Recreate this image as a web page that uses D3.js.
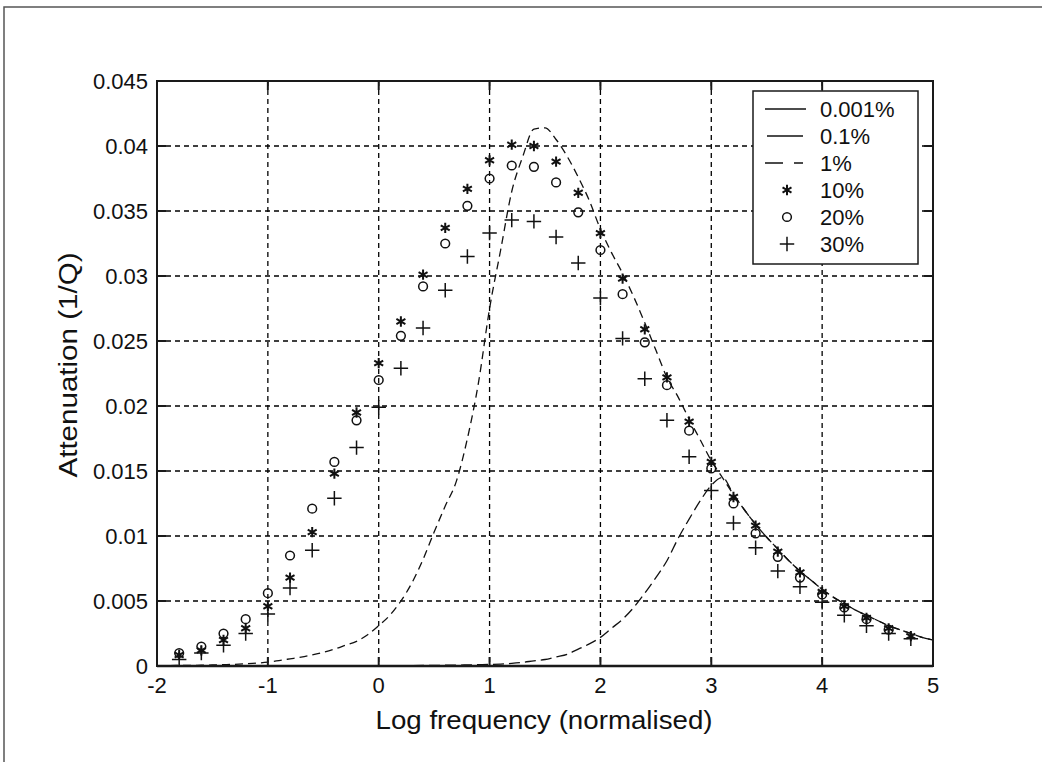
<!DOCTYPE html>
<html>
<head>
<meta charset="utf-8">
<script src="https://cdn.jsdelivr.net/npm/d3@7"></script>
<style>
    body { margin: 0; background: #fff; }
    svg text { font-family: "Liberation Sans", Arial, sans-serif; fill: #111; }
</style>
</head>
<body>
<svg id="chart" width="1042" height="762"></svg>
<script>
// curve samples (log frequency)
const curveX = [-2.0, -1.9, -1.8, -1.7, -1.6, -1.5, -1.4, -1.3, -1.2, -1.1,
    -1.0, -0.9, -0.8, -0.7, -0.6, -0.5, -0.4, -0.3, -0.2, -0.1,
    0.0, 0.1, 0.2, 0.3, 0.4, 0.5, 0.6, 0.7, 0.8, 0.9,
    1.0, 1.1, 1.2, 1.3, 1.4, 1.5, 1.6, 1.7, 1.8, 1.9,
    2.0, 2.1, 2.2, 2.3, 2.4, 2.5, 2.6, 2.7, 2.8, 2.9,
    3.0, 3.1, 3.2, 3.3, 3.4, 3.5, 3.6, 3.7, 3.8, 3.9,
    4.0, 4.1, 4.2, 4.3, 4.4, 4.5, 4.6, 4.7, 4.8, 4.9, 5.0];

const curve0001 = [0, 0, 0, 0, 0, 0, 0, 0, 0, 0,
    0, 0, 0, 0, 0, 0, 0, 0, 0, 0,
    0, 0, 0, 0, 0, 0, 0, 0, 0, 0,
    0, 0, 0, 0, 0, 0, 0, 0, 0, 0,
    0, 0, 0, 0, 0, 0, 0, 0, 0, 0,
    0, 0, 0, 0, 0, 0, 0, 0, 0, 0,
    0, 0, 0, 0, 0, 0, 0, 0, 0, 0, 0];

const curve01 = [0, 0, 0, 0, 0, 0, 0, 0, 0, 0,
    0, 0, 0, 0, 0, 0, 0, 0, 0, 0,
    0.00001, 0.00002, 0.00002, 0.00003, 0.00004, 0.00005, 0.00006, 0.00007, 0.00008, 0.0001,
    0.00012, 0.00015, 0.0002, 0.00028, 0.0004, 0.0005, 0.0007, 0.0009, 0.0013, 0.0017,
    0.0022, 0.0029, 0.0036, 0.0045, 0.0056, 0.0068, 0.0081, 0.0098, 0.0113, 0.0127,
    0.0139, 0.0145, 0.0132, 0.012, 0.0109, 0.0099, 0.009, 0.0081, 0.0073, 0.0066,
    0.0059, 0.0053, 0.0048, 0.0043, 0.0039, 0.0035, 0.0031, 0.0028, 0.0025, 0.0022, 0.002];

const curve1 = [0.00002, 0.00003, 0.00004, 0.00005, 0.00006, 0.00008, 0.0001, 0.00013, 0.00017, 0.00022,
    0.0003, 0.00042, 0.00055, 0.00068, 0.00085, 0.00105, 0.0013, 0.0016, 0.0019, 0.0024,
    0.0031, 0.0039, 0.005, 0.0064, 0.0082, 0.0103, 0.0123, 0.0142, 0.0175, 0.0218,
    0.0275, 0.032, 0.0365, 0.0392, 0.0413, 0.0414, 0.0405, 0.0392, 0.0376, 0.0358,
    0.0336, 0.0318, 0.0302, 0.0284, 0.0264, 0.0243, 0.0222, 0.0207, 0.019, 0.0174,
    0.0158, 0.0145, 0.0132, 0.012, 0.0109, 0.0099, 0.009, 0.0081, 0.0073, 0.0066,
    0.0059, 0.0053, 0.0048, 0.0043, 0.0039, 0.0035, 0.0031, 0.0028, 0.0025, 0.0022, 0.002];

// measured points
const markerX = [-1.8, -1.6, -1.4, -1.2, -1.0, -0.8, -0.6, -0.4, -0.2, 0.0,
    0.2, 0.4, 0.6, 0.8, 1.0, 1.2, 1.4, 1.6, 1.8, 2.0,
    2.2, 2.4, 2.6, 2.8, 3.0, 3.2, 3.4, 3.6, 3.8, 4.0,
    4.2, 4.4, 4.6, 4.8];

const star10 = [0.00085, 0.0012, 0.002, 0.0029, 0.0046, 0.0068, 0.0103, 0.0148, 0.0195, 0.0233,
    0.0265, 0.0301, 0.0337, 0.0367, 0.0389, 0.0401, 0.04, 0.0388, 0.0364, 0.0333,
    0.0298, 0.0259, 0.0222, 0.0188, 0.0157, 0.013, 0.0108, 0.0088, 0.0072, 0.0057,
    0.0046, 0.0037, 0.0029, 0.0023];

const circle20 = [0.001, 0.0015, 0.0025, 0.0036, 0.0056, 0.0085, 0.0121, 0.0157, 0.0189, 0.022,
    0.0254, 0.0292, 0.0325, 0.0354, 0.0375, 0.0385, 0.0384, 0.0372, 0.0349, 0.032,
    0.0286, 0.0249, 0.0216, 0.0181, 0.0152, 0.0125, 0.0102, 0.0084, 0.0068, 0.0055,
    0.0045, 0.0036, 0.0028, null];

const plus30 = [0.0005, 0.001, 0.0016, 0.0025, 0.004, 0.006, 0.0089, 0.0129, 0.0168, 0.0199,
    0.0229, 0.026, 0.0289, 0.0315, 0.0333, 0.0343, 0.0342, 0.033, 0.031, 0.0283,
    0.0252, 0.0221, 0.0189, 0.0161, 0.0135, 0.011, 0.0091, 0.0073, 0.0061, 0.0049,
    0.0039, 0.0031, 0.0025, 0.0021];

const xTicks = [-2, -1, 0, 1, 2, 3, 4, 5];
const yTicks = [0, 0.005, 0.01, 0.015, 0.02, 0.025, 0.03, 0.035, 0.04, 0.045];
const yTickLabels = ["0", "0.005", "0.01", "0.015", "0.02", "0.025", "0.03", "0.035", "0.04", "0.045"];
const legendLabels = ["0.001%", "0.1%", "1%", "10%", "20%", "30%"];

(function() {
    var svg = d3.select("#chart"),
        pLeft = 157, pRight = 933, pTop = 81, pBottom = 666,
        tickLen = 9;

    var x = d3.scaleLinear().domain([-2, 5]).range([pLeft, pRight]);
    var y = d3.scaleLinear().domain([0, 0.045]).range([pBottom, pTop]);

    // outer figure frame (only top and left edges show)
    svg.append("path")
        .attr("d", "M4,762V7H1042")
        .attr("fill", "none")
        .attr("stroke", "#555")
        .attr("stroke-width", 1.5);

    // grid
    var grid = svg.append("g")
        .attr("stroke", "#000")
        .attr("stroke-width", 1.3)
        .attr("stroke-dasharray", "5,4");

    grid.selectAll("line.vx")
        .data(xTicks.slice(1, -1))
        .enter()
        .append("line")
        .attr("x1", d => x(d)).attr("x2", d => x(d))
        .attr("y1", pTop).attr("y2", pBottom);

    grid.selectAll("line.hy")
        .data(yTicks.slice(1, -1))
        .enter()
        .append("line")
        .attr("y1", d => y(d)).attr("y2", d => y(d))
        .attr("x1", pLeft).attr("x2", pRight);

    // curves
    var line = d3.line()
        .x(d => x(d[0]))
        .y(d => y(d[1]))
        .curve(d3.curveMonotoneX);

    let curves = [
        { values: curve0001, dash: null, width: 2.5 },
        { values: curve01, dash: "11,5", width: 1.3 },
        { values: curve1, dash: "8,5", width: 1.3 }
    ];

    svg.append("g")
        .selectAll("path")
        .data(curves)
        .enter()
        .append("path")
        .attr("d", d => line(curveX.map((v, i) => [v, d.values[i]])))
        .attr("fill", "none")
        .attr("stroke", "#111")
        .attr("stroke-width", d => d.width)
        .attr("stroke-dasharray", d => d.dash);

    // markers
    let markerSets = [
        { values: star10, symbol: d3.symbolAsterisk, size: 75, width: 2 },
        { values: circle20, symbol: d3.symbolCircle, size: 60, width: 1.5 },
        { values: plus30, symbol: d3.symbolPlus, size: 70, width: 1.5 }
    ];

    markerSets.forEach(function(set) {
        var sym = d3.symbol().type(set.symbol).size(set.size);
        svg.append("g")
            .selectAll("path")
            .data(markerX.map((v, i) => [v, set.values[i]]).filter(d => d[1] !== null))
            .enter()
            .append("path")
            .attr("transform", d => "translate(" + x(d[0]) + "," + y(d[1]) + ")")
            .attr("d", sym)
            .attr("fill", "none")
            .attr("stroke", "#111")
            .attr("stroke-width", set.width);
    });

    // axes box with inward ticks on all four sides
    var axes = svg.append("g")
        .attr("stroke", "#1a1a1a")
        .attr("stroke-width", 2);

    axes.append("rect")
        .attr("x", pLeft).attr("y", pTop)
        .attr("width", pRight - pLeft).attr("height", pBottom - pTop)
        .attr("fill", "none");

    xTicks.forEach(function(t) {
        axes.append("line").attr("x1", x(t)).attr("x2", x(t)).attr("y1", pBottom).attr("y2", pBottom - tickLen);
        axes.append("line").attr("x1", x(t)).attr("x2", x(t)).attr("y1", pTop).attr("y2", pTop + tickLen);
    });
    yTicks.forEach(function(t) {
        axes.append("line").attr("y1", y(t)).attr("y2", y(t)).attr("x1", pLeft).attr("x2", pLeft + tickLen);
        axes.append("line").attr("y1", y(t)).attr("y2", y(t)).attr("x1", pRight).attr("x2", pRight - tickLen);
    });

    svg.append("g")
        .selectAll("text")
        .data(xTicks)
        .enter()
        .append("text")
        .attr("x", d => x(d))
        .attr("y", 693)
        .attr("text-anchor", "middle")
        .style("font-size", "22px")
        .text(d => d);

    svg.append("g")
        .selectAll("text")
        .data(yTicks)
        .enter()
        .append("text")
        .attr("x", 148)
        .attr("y", d => y(d))
        .attr("dy", "0.36em")
        .attr("text-anchor", "end")
        .style("font-size", "22px")
        .text((d, i) => yTickLabels[i]);

    // axis titles
    svg.append("text")
        .attr("x", 544)
        .attr("y", 729)
        .attr("text-anchor", "middle")
        .attr("textLength", 337)
        .attr("lengthAdjust", "spacingAndGlyphs")
        .style("font-size", "25px")
        .text("Log frequency (normalised)");

    svg.append("text")
        .attr("transform", "translate(77,365) rotate(-90)")
        .attr("text-anchor", "middle")
        .attr("textLength", 225)
        .attr("lengthAdjust", "spacingAndGlyphs")
        .style("font-size", "25px")
        .text("Attenuation (1/Q)");

    // legend
    var legend = svg.append("g");
    legend.append("rect")
        .attr("x", 753).attr("y", 91)
        .attr("width", 165).attr("height", 173)
        .attr("fill", "#fff")
        .attr("stroke", "#1a1a1a")
        .attr("stroke-width", 1.5);

    let legendY = d3.scalePoint().domain(legendLabels).range([109, 244]);
    let legendStyles = [
        { kind: "line", x1: 765, x2: 806, dash: null },
        { kind: "line", x1: 767, x2: 803, dash: null },
        { kind: "line", x1: 765, x2: 803, dash: "18,11" },
        { kind: "mark", symbol: d3.symbolAsterisk, size: 75, width: 2 },
        { kind: "mark", symbol: d3.symbolCircle, size: 60, width: 1.5 },
        { kind: "mark", symbol: d3.symbolPlus, size: 70, width: 1.5 }
    ];

    legendLabels.forEach(function(lbl, i) {
        var st = legendStyles[i], ly = legendY(lbl);
        if (st.kind === "line") {
            legend.append("line")
                .attr("x1", st.x1).attr("x2", st.x2)
                .attr("y1", ly).attr("y2", ly)
                .attr("stroke", "#111")
                .attr("stroke-width", 1.5)
                .attr("stroke-dasharray", st.dash);
        } else {
            legend.append("path")
                .attr("transform", "translate(787," + ly + ")")
                .attr("d", d3.symbol().type(st.symbol).size(st.size))
                .attr("fill", "none")
                .attr("stroke", "#111")
                .attr("stroke-width", st.width);
        }
        legend.append("text")
            .attr("x", 820)
            .attr("y", ly)
            .attr("dy", "0.36em")
            .style("font-size", "22px")
            .text(lbl);
    });
})();
</script>
</body>
</html>
